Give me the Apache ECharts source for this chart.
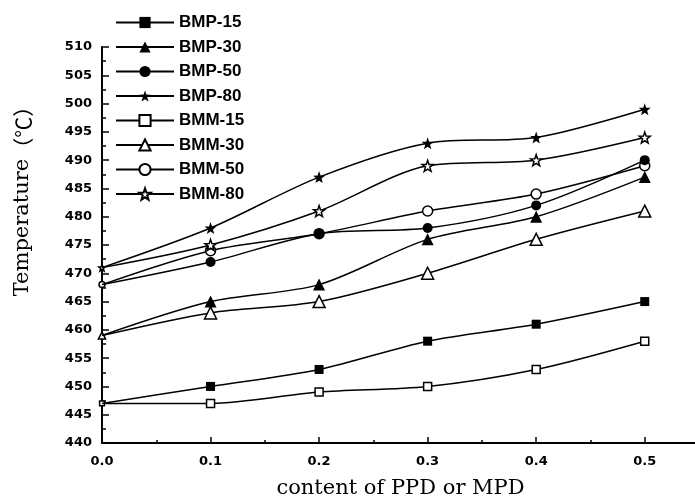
<!DOCTYPE html>
<html>
<head>
<meta charset="utf-8">
<script src="https://cdn.jsdelivr.net/npm/echarts@6/dist/echarts.min.js"></script>
<style>
  html, body { margin: 0; padding: 0; background: #fff; }
  #main { width: 695px; height: 501px; }
</style>
</head>
<body>
<div id="main"></div>
<script>
// content of PPD or MPD
var xValues = [0, 0.1, 0.2, 0.3, 0.4, 0.5];

var seriesNames = ['BMP-15', 'BMP-30', 'BMP-50', 'BMP-80', 'BMM-15', 'BMM-30', 'BMM-50', 'BMM-80'];

var bmp15 = [447, 450, 453, 458, 461, 465];
var bmp30 = [459, 465, 468, 476, 480, 487];
var bmp50 = [468, 472, 477, 478, 482, 490];
var bmp80 = [471, 478, 487, 493, 494, 499];
var bmm15 = [447, 447, 449, 450, 453, 458];
var bmm30 = [459, 463, 465, 470, 476, 481];
var bmm50 = [468, 474, 477, 481, 484, 489];
var bmm80 = [471, 475, 481, 489, 490, 494];

var star = 'path://M0,-10L2.35,-3.24L9.51,-3.09L3.8,1.24L5.88,8.09L0,4.4L-5.88,8.09L-3.8,1.24L-9.51,-3.09L-2.35,-3.24Z';

// the first point sits on the y axis and is mostly hidden there
function pairs(vals, filled, size) {
    var out = [];
    for (var i = 0; i < xValues.length; i++) {
        if (i === 0) {
            out.push({ value: [xValues[i], vals[i]], symbol: filled ? 'none' : undefined, symbolSize: size * 0.6 });
        } else {
            out.push([xValues[i], vals[i]]);
        }
    }
    return out;
}

function makeSeries(name, vals, symbol, size, filled) {
    return {
        name: name,
        type: 'line',
        smooth: 0.3,
        data: pairs(vals, filled, size),
        symbol: symbol,
        symbolSize: size,
        showSymbol: true,
        lineStyle: { color: '#000', width: 1.5 },
        itemStyle: filled
            ? { color: '#000', borderColor: '#000', borderWidth: 0 }
            : { color: '#fff', borderColor: '#000', borderWidth: 1.5 },
        emphasis: { disabled: true },
        z: filled ? 3 : 2
    };
}

var chart = echarts.init(document.getElementById('main'));
chart.setOption({
    backgroundColor: '#fff',
    animation: false,
    legend: {
        orient: 'vertical',
        left: 110,
        top: 9,
        itemWidth: 58,
        itemHeight: 14,
        itemGap: 7.5,
        data: seriesNames,
        textStyle: {
            color: '#000',
            fontSize: 17,
            fontWeight: 'bold',
            fontFamily: 'Liberation Sans'
        }
    },
    grid: {
        left: 102,
        right: -4,
        top: 47,
        bottom: 58,
        outerBoundsMode: 'none'
    },
    xAxis: {
        type: 'value',
        min: 0,
        max: 0.55,
        interval: 0.1,
        name: 'content of PPD or MPD',
        nameLocation: 'middle',
        nameGap: 35,
        nameTextStyle: { color: '#000', fontSize: 21, fontFamily: 'DejaVu Serif' },
        axisLine: { lineStyle: { color: '#000', width: 2 } },
        axisTick: { inside: true, length: 6, lineStyle: { color: '#000', width: 1.5 } },
        minorTick: { show: true, splitNumber: 2, length: 3, lineStyle: { color: '#000', width: 1.5 } },
        splitLine: { show: false },
        axisLabel: {
            color: '#000',
            fontSize: 13,
            fontWeight: 'bold',
            fontFamily: 'DejaVu Sans',
            margin: 12,
            formatter: function (v) {
                var r = Math.round(v * 10);
                if (Math.abs(v * 10 - r) > 1e-6 || r > 5) return '';
                return (r / 10).toFixed(1);
            }
        }
    },
    yAxis: {
        type: 'value',
        min: 440,
        max: 510,
        interval: 5,
        axisLine: { lineStyle: { color: '#000', width: 2 } },
        axisTick: { inside: true, length: 7, lineStyle: { color: '#000', width: 1.5 } },
        minorTick: { show: true, splitNumber: 2, length: 4, lineStyle: { color: '#000', width: 1.5 } },
        splitLine: { show: false },
        axisLabel: {
            color: '#000',
            fontSize: 13,
            fontWeight: 'bold',
            fontFamily: 'DejaVu Sans',
            margin: 10
        }
    },
    graphic: [{
        type: 'text',
        x: 23,
        y: 196,
        rotation: Math.PI / 2,
        style: {
            text: '{a|Temperature}{b|（℃）}',
            fill: '#000',
            textAlign: 'center',
            textVerticalAlign: 'middle',
            rich: {
                a: { fontSize: 21, fontFamily: 'DejaVu Serif', fill: '#000' },
                b: { fontSize: 21, fontFamily: 'Noto Sans CJK SC', fill: '#000' }
            }
        }
    }],
    series: [
        makeSeries('BMP-15', bmp15, 'rect', 9, true),
        makeSeries('BMP-30', bmp30, 'triangle', 12, true),
        makeSeries('BMP-50', bmp50, 'circle', 10, true),
        makeSeries('BMP-80', bmp80, star, 12, true),
        makeSeries('BMM-15', bmm15, 'rect', 8, false),
        makeSeries('BMM-30', bmm30, 'triangle', 12, false),
        makeSeries('BMM-50', bmm50, 'circle', 10, false),
        makeSeries('BMM-80', bmm80, star, 11, false)
    ]
});
</script>
</body>
</html>
